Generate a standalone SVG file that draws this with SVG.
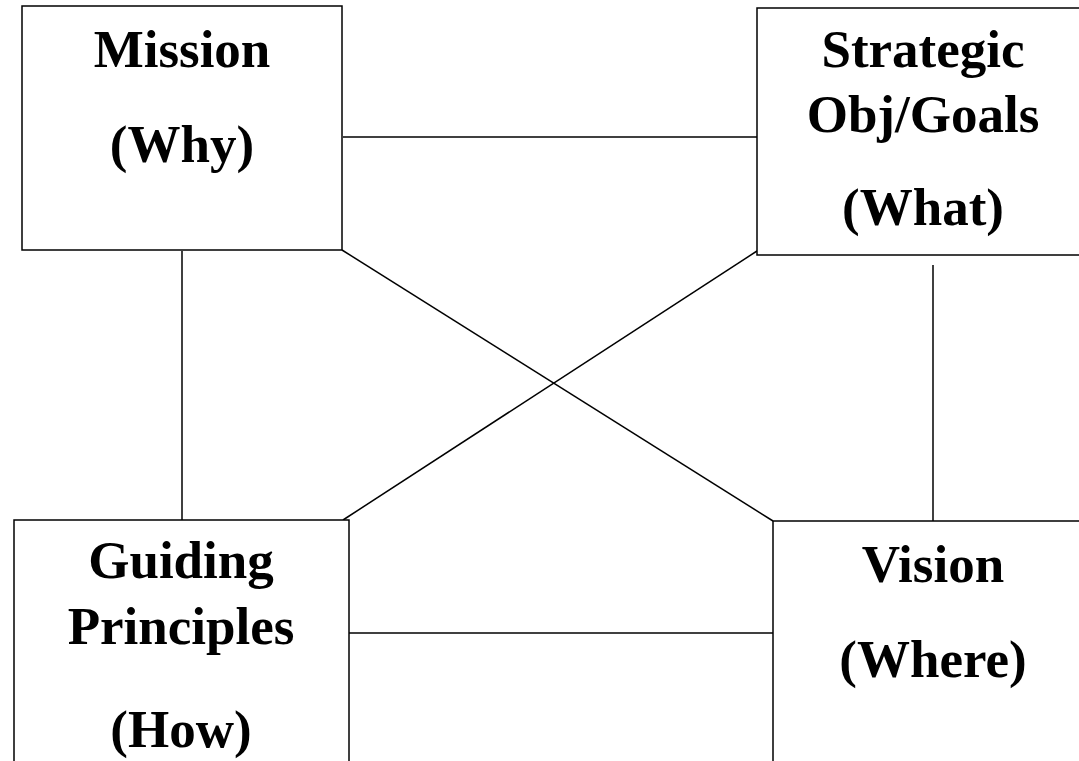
<svg xmlns="http://www.w3.org/2000/svg" width="1079" height="761" viewBox="0 0 1079 761">
<style>
.box{fill:#fff;stroke:#000;stroke-width:1.5}
.lbl{font-family:"Liberation Serif","Times New Roman",serif;font-weight:bold;font-size:53px;fill:#000;text-anchor:middle}
.con{stroke:#000;stroke-width:1.5;fill:none}
</style>
<rect width="1079" height="761" fill="#fff"/>
<g id="connectors">
<line class="con" x1="182" y1="251" x2="182" y2="520"/>
<line class="con" x1="343" y1="137" x2="757" y2="137"/>
<line class="con" x1="933" y1="265" x2="933" y2="521"/>
<line class="con" x1="349" y1="633" x2="773" y2="633"/>
<line class="con" x1="757" y1="251" x2="343" y2="520"/>
<line class="con" x1="342" y1="250" x2="773" y2="521"/>
</g>
<g id="mission">
<rect class="box" x="22" y="6" width="320" height="244"/>
<text class="lbl" x="182" y="67">Mission</text>
<text class="lbl" x="182" y="162">(Why)</text>
</g>
<g id="strategic">
<rect class="box" x="757" y="8" width="340" height="247"/>
<text class="lbl" x="923" y="67">Strategic</text>
<text class="lbl" x="923" y="132">Obj/Goals</text>
<text class="lbl" x="923" y="225">(What)</text>
</g>
<g id="guiding">
<rect class="box" x="14" y="520" width="335" height="260"/>
<text class="lbl" x="181" y="578">Guiding</text>
<text class="lbl" x="181" y="644">Principles</text>
<text class="lbl" x="181" y="747">(How)</text>
</g>
<g id="vision">
<rect class="box" x="773" y="521" width="330" height="260"/>
<text class="lbl" x="933" y="582">Vision</text>
<text class="lbl" x="933" y="677">(Where)</text>
</g>
</svg>
